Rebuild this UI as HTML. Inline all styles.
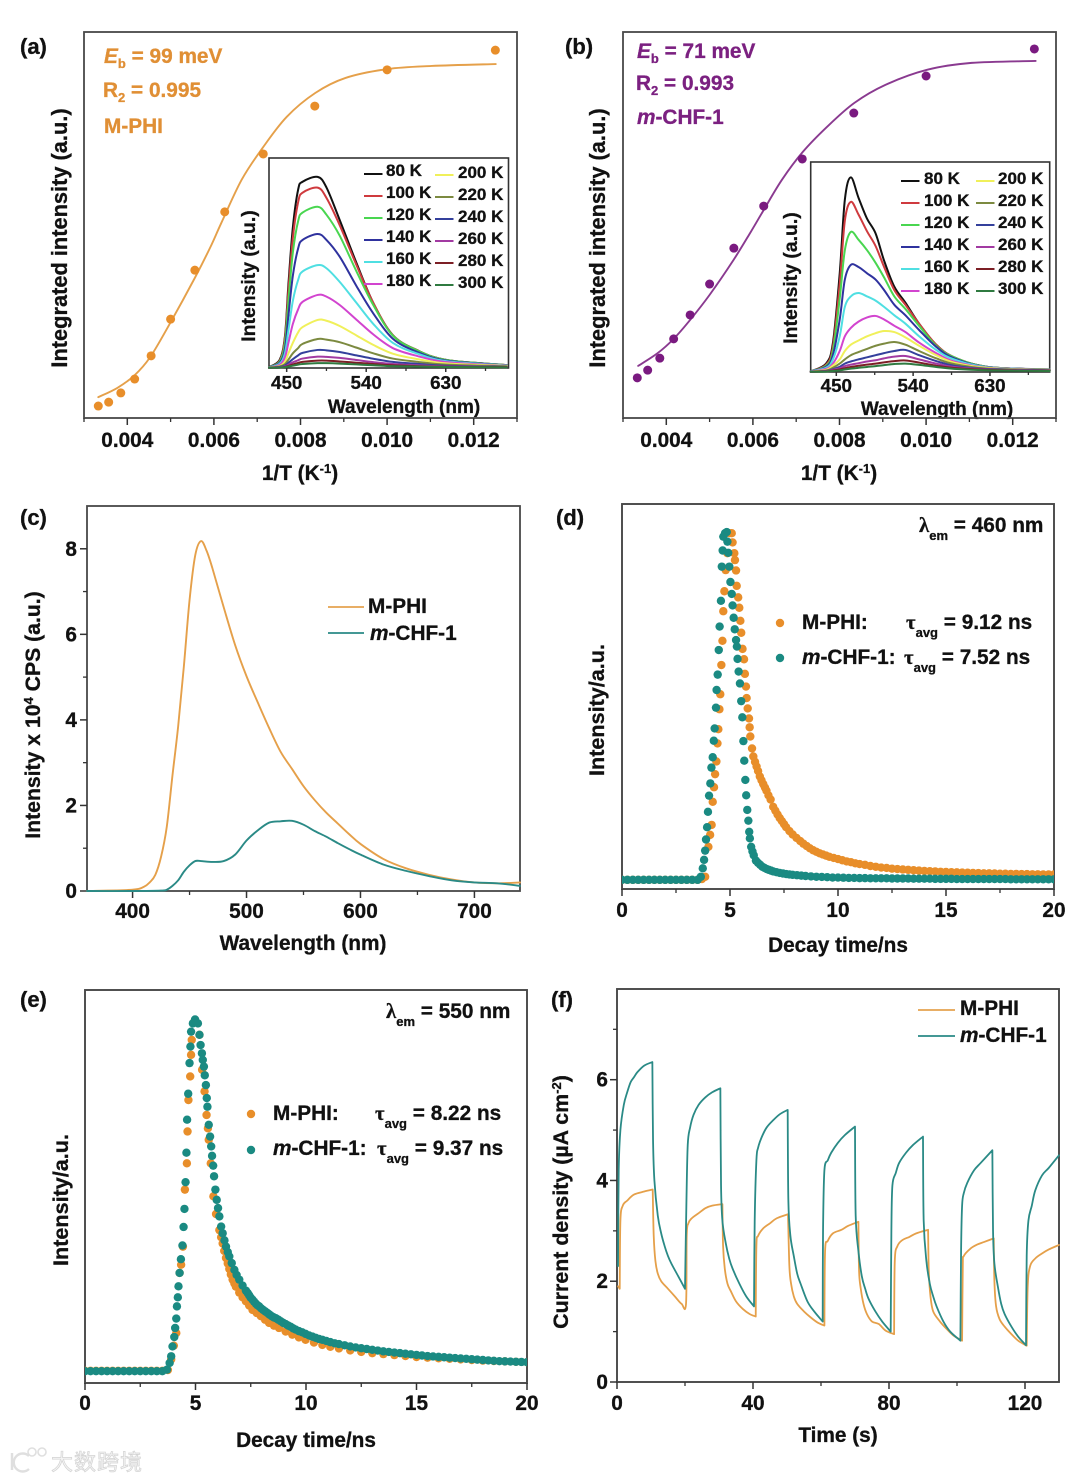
<!DOCTYPE html>
<html lang="en">
<head>
<meta charset="utf-8">
<title>Photoluminescence and photocurrent figure</title>
<style>
html,body{margin:0;padding:0;background:#fff;}
body{width:1080px;height:1481px;overflow:hidden;}
svg{display:block;filter:blur(0.35px);}
text{font-family:"Liberation Sans",sans-serif;font-weight:bold;fill:#111;stroke:#111;stroke-width:.3px;font-size:20.8px;}
.sym{font-family:"Liberation Serif",serif;}
.sub{font-size:13px;}
.ins{font-size:18.8px;}
.leg{font-size:17px;}
.pl{font-size:22px;}
.orange{fill:#e08f35;stroke:#e08f35;}
.purple{fill:#7b2080;stroke:#7b2080;}
.wm{font-family:"Liberation Sans","Noto Sans CJK SC",sans-serif;font-size:22px;fill:#f3f3f3;stroke:#cfcfcf;stroke-width:.7px;font-weight:normal;letter-spacing:1px;}
</style>
</head>
<body>
<svg id="fig" xmlns="http://www.w3.org/2000/svg" width="1080" height="1481" viewBox="0 0 1080 1481">
<defs>
<clipPath id="clip-d"><rect x="622" y="504" width="432" height="385"/></clipPath>
<clipPath id="clip-e"><rect x="85" y="990" width="442" height="393"/></clipPath>
</defs>
<rect x="0" y="0" width="1080" height="1481" fill="#fff"/>

<text class="pl" x="20" y="54">(a)</text>
<text class="pl" x="565" y="54">(b)</text>
<text class="pl" x="20" y="525">(c)</text>
<text class="pl" x="556" y="525">(d)</text>
<text class="pl" x="20" y="1007">(e)</text>
<text class="pl" x="551" y="1007">(f)</text>

<text class="orange" x="104" y="63"><tspan font-style="italic">E</tspan><tspan class="sub" dy="5">b</tspan><tspan dy="-5"> = 99 meV</tspan></text>
<text class="orange" x="103" y="97">R<tspan class="sub" dy="5">2</tspan><tspan dy="-5"> = 0.995</tspan></text>
<text class="orange" x="104" y="133">M-PHI</text>
<text text-anchor="middle" transform="translate(67,238) rotate(-90)" style="font-size:21.8px">Integrated intensity (a.u.)</text>
<text text-anchor="middle" x="300" y="480">1/T (K<tspan class="sub" dy="-7">-1</tspan><tspan dy="7">)</tspan></text>
<text text-anchor="middle" transform="translate(255,276) rotate(-90)" style="font-size:19.4px">Intensity (a.u.)</text>
<text text-anchor="middle" x="404" y="413" style="font-size:19px">Wavelength (nm)</text>

<text class="purple" x="637" y="58"><tspan font-style="italic">E</tspan><tspan class="sub" dy="5">b</tspan><tspan dy="-5"> = 71 meV</tspan></text>
<text class="purple" x="636" y="90">R<tspan class="sub" dy="5">2</tspan><tspan dy="-5"> = 0.993</tspan></text>
<text class="purple" x="637" y="124"><tspan font-style="italic">m</tspan>-CHF-1</text>
<text text-anchor="middle" transform="translate(605,238) rotate(-90)" style="font-size:21.8px">Integrated intensity (a.u.)</text>
<text text-anchor="middle" x="839" y="480">1/T (K<tspan class="sub" dy="-7">-1</tspan><tspan dy="7">)</tspan></text>
<text text-anchor="middle" transform="translate(797,278) rotate(-90)" style="font-size:19.4px">Intensity (a.u.)</text>
<text text-anchor="middle" x="937" y="415" style="font-size:19px">Wavelength (nm)</text>

<text text-anchor="middle" transform="translate(40,715) rotate(-90)" style="font-size:21.2px">Intensity x 10<tspan class="sub" dy="-7">4</tspan><tspan dy="7"> CPS (a.u.)</tspan></text>
<text text-anchor="middle" x="303" y="950">Wavelength (nm)</text>
<line x1="328" y1="607" x2="364" y2="607" stroke="#e5a24f" stroke-width="1.8"/>
<text x="368" y="613">M-PHI</text>
<line x1="328" y1="633" x2="364" y2="633" stroke="#2a8a86" stroke-width="1.8"/>
<text x="370" y="640"><tspan font-style="italic">m</tspan>-CHF-1</text>

<text text-anchor="middle" transform="translate(604,710) rotate(-90)" style="font-size:21.6px">Intensity/a.u.</text>
<text text-anchor="middle" x="838" y="952">Decay time/ns</text>
<text x="919" y="532"><tspan class="sym">λ</tspan><tspan class="sub" dy="8">em</tspan><tspan dy="-8"> = 460 nm</tspan></text>
<circle cx="780" cy="623" r="4.2" fill="#e88e2a"/>
<circle cx="780" cy="658" r="4.2" fill="#1a8a82"/>
<text x="802" y="629">M-PHI:</text>
<text x="906" y="629"><tspan class="sym">τ</tspan><tspan class="sub" dy="8">avg</tspan><tspan dy="-8"> = 9.12 ns</tspan></text>
<text x="802" y="664"><tspan font-style="italic">m</tspan>-CHF-1:</text>
<text x="904" y="664"><tspan class="sym">τ</tspan><tspan class="sub" dy="8">avg</tspan><tspan dy="-8"> = 7.52 ns</tspan></text>

<text text-anchor="middle" transform="translate(68,1200) rotate(-90)" style="font-size:21.6px">Intensity/a.u.</text>
<text text-anchor="middle" x="306" y="1447">Decay time/ns</text>
<text x="386" y="1018"><tspan class="sym">λ</tspan><tspan class="sub" dy="8">em</tspan><tspan dy="-8"> = 550 nm</tspan></text>
<circle cx="251" cy="1114" r="4.2" fill="#e88e2a"/>
<circle cx="251" cy="1150" r="4.2" fill="#1a8a82"/>
<text x="273" y="1120">M-PHI:</text>
<text x="375" y="1120"><tspan class="sym">τ</tspan><tspan class="sub" dy="8">avg</tspan><tspan dy="-8"> = 8.22 ns</tspan></text>
<text x="273" y="1155"><tspan font-style="italic">m</tspan>-CHF-1:</text>
<text x="377" y="1155"><tspan class="sym">τ</tspan><tspan class="sub" dy="8">avg</tspan><tspan dy="-8"> = 9.37 ns</tspan></text>

<text text-anchor="middle" transform="translate(568,1202) rotate(-90)" style="font-size:21.4px">Current density (µA cm<tspan class="sub" dy="-7">-2</tspan><tspan dy="7">)</tspan></text>
<text text-anchor="middle" x="838" y="1442">Time (s)</text>
<line x1="918" y1="1010" x2="955" y2="1010" stroke="#e5a24f" stroke-width="1.8"/>
<text x="960" y="1015">M-PHI</text>
<line x1="918" y1="1036" x2="955" y2="1036" stroke="#2a8a86" stroke-width="1.8"/>
<text x="960" y="1042"><tspan font-style="italic">m</tspan>-CHF-1</text>

<g opacity="0.9">
<path d="M12 1453 V1470 M29 1456 A9 9 0 1 0 29 1469" fill="none" stroke="#dcdcdc" stroke-width="2.4"/>
<circle cx="32" cy="1452" r="4" fill="none" stroke="#dcdcdc" stroke-width="1.6"/>
<circle cx="42" cy="1452" r="4" fill="none" stroke="#dcdcdc" stroke-width="1.6"/>
<text class="wm" x="51" y="1470">大数跨境</text>
</g>
</svg>

<script>
// ---------- Panel (a) ----------
const inverseTemp = [0.00333,0.00357,0.00385,0.00417,0.00455,0.005,0.00556,0.00625,0.00714,0.00833,0.01,0.0125];
const aPoints = [3.1,4.1,6.5,10.1,16.1,25.6,38.3,53.4,68.4,80.8,90.2,95.3];
const aFitX = [0.00333,0.00377,0.00417,0.00453,0.00499,0.00556,0.00592,0.00617,0.00664,0.00712,0.00768,0.00834,0.00904,0.01001,0.01103,0.01251];
const aFitY = [5.4,7.8,11.1,15.8,24.6,36.3,44.3,50.5,61.7,69.9,78,84.2,88.1,90.4,91.2,91.7];
const xTickValuesAB = [0.004,0.006,0.008,0.01,0.012];
const xTickLabelsAB = ['0.004','0.006','0.008','0.010','0.012'];
const xMinorValuesAB = [0.003,0.005,0.007,0.009,0.011,0.013];

// ---------- Panel (a) inset ----------
const aInsetWave = [430,442,448,452,457,463,468,485,495,510,529,548,570,597,631,699];
const aInset80 = [.5,3.8,15,40,67,85,88.7,91,86,70.5,50,31,15.7,8.6,3.8,1.4];
const aInset100 = [.4,3.4,14,37,62,79,83.5,85.9,81,68,49,31,15.7,8.6,3.8,1.4];
const aInset120 = [.4,3,12,32,55,70,74,76.8,73,63,46,30,15.5,8.5,3.8,1.4];
const aInset140 = [.3,2.5,9,25,44,57,61,63.8,61,53,39,26,14,7.8,3.5,1.3];
const aInset160 = [.3,2,7,18,32,42,46,49,47.5,41,31,21,12,7,3.2,1.2];
const aInset180 = [.2,1.5,5,12,21,28,31.5,34.8,34,30,23,16,9.5,5.8,2.8,1.1];
const aInset200 = [.2,1,3,7,12,17,19.5,22.9,22.5,20,15.5,11,6.8,4.3,2.2,1];
const aInset220 = [.2,.7,1.8,4,7,9.5,11.5,13.8,13.5,12.3,9.7,7,4.5,3,1.6,.8];
const aInset240 = [.1,.5,1.2,2.5,4.2,6,7.2,8.6,8.4,7.6,6,4.4,2.9,2,1.1,.6];
const aInset260 = [.1,.3,.8,1.6,2.7,3.7,4.5,5.4,5.3,4.8,3.8,2.8,1.9,1.3,.8,.5];
const aInset280 = [.1,.2,.5,1,1.7,2.4,2.9,3.5,3.5,3.1,2.5,1.9,1.3,.9,.6,.4];
const aInset300 = [.1,.2,.4,.7,1.1,1.6,1.9,2.3,2.3,2.1,1.7,1.3,.9,.7,.5,.3];
const insetTempLabels = ['80 K','100 K','120 K','140 K','160 K','180 K','200 K','220 K','240 K','260 K','280 K','300 K'];
const insetTickValues = [450,540,630];
const insetTickLabels = ['450','540','630'];
const insetMinorValues = [495,585,675];

// ---------- Panel (b) ----------
const bPoints = [10.4,12.4,15.5,20.5,26.7,34.7,44,54.9,67.1,79,88.6,95.6];
const bFitX = [0.00335,0.0038,0.00417,0.00455,0.005,0.00555,0.00595,0.00625,0.00667,0.00715,0.00771,0.00834,0.00906,0.01002,0.01105,0.01253];
const bFitY = [13.5,16.8,20.5,25.4,31.9,40.9,48.2,53.9,61.7,68.9,75.4,81.6,86.3,90.2,92,92.5];

// ---------- Panel (b) inset ----------
const bInsetWave = [420,438,446,454,460,467,476,486,496,506,518,531,547,567,588,628,700];
const bInset80 = [.3,4,13.8,47,82,92.7,83,73,66,53,40.6,33,23,13,7,2.4,1.2];
const bInset100 = [.3,3.5,12,42,72,81,75,67,60,50,39,32,23,13,7,2.4,1.2];
const bInset120 = [.3,3,10,35,58,66.7,63,58,52,45,36,30,22,12.5,7,2.4,1.2];
const bInset140 = [.3,2.5,8,25,44,51,50,47,44,39,32,27,20,12,6.5,2.3,1.2];
const bInset160 = [.3,2,6,17,31,36,37.6,36,34,31,27,23,17,10.5,6,2.2,1.1];
const bInset180 = [.2,1.5,4,10,17,21,24,26,26.7,25,22,19,14,9,5,2,1];
const bInset200 = [.2,1,3,6,10,13,15,17,18.5,19.5,19,16.5,12.5,8,4.5,1.9,1];
const bInset220 = [.2,.7,2,4,6,8,9.5,11,12.5,13.5,14.3,13,10,6.5,3.8,1.6,.9];
const bInset240 = [.1,.5,1.3,2.5,4,5,6,7,8,9,10,10.5,8,5.2,3,1.4,.8];
const bInset260 = [.1,.4,1,1.8,2.8,3.5,4.2,5,5.6,6.5,7.3,7.6,6,4,2.4,1.2,.7];
const bInset280 = [.1,.3,.7,1.2,1.8,2.4,3,3.5,4,4.6,5.2,5.5,4.5,3,1.9,1,.6];
const bInset300 = [.1,.2,.5,.8,1.2,1.6,2,2.4,2.8,3.3,3.8,4,3.4,2.4,1.5,.8,.5];

// ---------- Panel (c) ----------
const cPhiWave = [360,400,410,415,420,425,430,435,440,445,450,455,460,465,470,480,490,500,510,520,530,540,550,560,570,580,590,600,620,640,660,680,700,720,740];
const cPhiValues = [0,.03,.1,.2,.38,.8,1.5,2.7,3.85,5.25,6.8,7.85,8.18,7.95,7.55,6.63,5.75,5.02,4.4,3.8,3.25,2.85,2.45,2.12,1.83,1.58,1.33,1.1,.75,.53,.38,.27,.2,.18,.2];
const cChfWave = [360,400,425,430,435,440,445,450,455,460,470,480,490,500,510,520,530,540,550,560,570,580,590,600,620,640,660,680,700,720,740];
const cChfValues = [0,0,.01,.03,.12,.25,.45,.6,.7,.7,.68,.7,.85,1.18,1.42,1.6,1.63,1.64,1.55,1.4,1.27,1.12,.98,.85,.62,.47,.35,.25,.2,.18,.12];
const cXTicks = [400,500,600,700];
const cXMinor = [450,550,650];
const cYTicks = [0,2,4,6,8];
const cYMinor = [1,3,5,7];

// ---------- Panel (d) ----------
const dPhiTime = [0,.25,.5,.75,1,1.25,1.5,1.75,2,2.25,
2.5,2.75,3,3.25,3.5,3.7,3.85,4,4.08,4.15,
4.2,4.26,4.31,4.37,4.42,4.46,4.51,4.55,4.6,4.65,
4.69,4.74,4.8,4.88,4.97,5.08,5.12,5.2,5.23,5.28,
5.31,5.38,5.43,5.48,5.52,5.58,5.65,5.69,5.74,5.77,
5.82,5.88,5.91,5.94,6.02,6.08,6.16,6.23,6.3,6.38,
6.46,6.54,6.62,6.69,6.78,6.88,7,7.1,7.2,7.3,
7.4,7.5,7.6,7.75,7.9,8.08,8.25,8.4,8.55,8.7,
8.85,9,9.15,9.3,9.45,9.6,9.8,10,10.2,10.4,
10.6,10.8,11,11.25,11.5,11.75,12,12.25,12.5,12.75,
13,13.25,13.5,13.75,14,14.25,14.5,14.75,15,15.25,
15.5,15.75,16,16.25,16.5,16.75,17,17.25,17.5,17.75,
18,18.25,18.5,18.75,19,19.25,19.5,19.75,20];
const dPhiValues = [2.2,2.2,2.2,2.2,2.2,2.2,2.2,2.2,2.2,2.2,
2.2,2.2,2.2,2.2,2.2,2.4,3,10.8,13.9,16.5,
22.5,26.3,29.7,33,37.7,41.4,46.6,50.5,58.1,64.4,
72.1,77.3,82.8,87.2,92.4,92.4,90,87.2,85.4,82.7,
78.7,75.7,73,69.6,66.5,62.3,59.6,55.8,52.5,49.5,
46.8,44.2,41.9,39.5,36.4,34.3,32.9,31.7,30.5,29.1,
28.1,27.1,26.2,25.4,24.2,23.1,21.2,20.2,19.2,18.3,
17.5,16.7,15.9,14.9,14,13.1,12.3,11.6,11,10.4,
9.9,9.5,9.1,8.8,8.5,8.2,7.9,7.6,7.3,7,
6.8,6.5,6.3,6.1,5.8,5.6,5.4,5.3,5.1,5,
4.9,4.8,4.7,4.6,4.5,4.45,4.4,4.3,4.25,4.2,
4.15,4.1,4.05,4,3.95,3.9,3.9,3.85,3.8,3.8,
3.75,3.75,3.7,3.7,3.65,3.65,3.6,3.6,3.6];
const dChfTime = [0,.25,.5,.75,1,1.25,1.5,1.75,2,2.25,
2.5,2.75,3,3.25,3.5,3.65,3.74,3.8,3.85,3.89,
3.94,3.98,4.03,4.09,4.14,4.2,4.25,4.29,4.35,4.38,
4.43,4.48,4.52,4.58,4.62,4.66,4.69,4.77,4.85,4.88,
4.92,4.97,5.02,5.08,5.12,5.17,5.22,5.28,5.32,5.35,
5.4,5.46,5.52,5.57,5.62,5.66,5.71,5.75,5.8,5.85,
5.89,5.92,5.98,6.04,6.1,6.2,6.3,6.4,6.5,6.6,
6.7,6.8,6.9,7,7.15,7.3,7.45,7.6,7.75,7.9,
8.1,8.3,8.5,8.75,9,9.25,9.5,9.75,10,10.25,
10.5,10.75,11,11.25,11.5,11.75,12,12.25,12.5,12.75,
13,13.25,13.5,13.75,14,14.25,14.5,14.75,15,15.25,
15.5,15.75,16,16.25,16.5,16.75,17,17.25,17.5,17.75,
18,18.25,18.5,18.75,19,19.25,19.5,19.75,20];
const dChfValues = [2.2,2.2,2.2,2.2,2.2,2.2,2.2,2.2,2.2,2.2,
2.2,2.2,2.2,2.2,2.2,3,5.2,7.4,9.8,12.7,
15.9,19.9,24.1,27.3,31.4,34.1,38.4,41.6,47,51.6,
55.6,62,68.1,74.8,83.7,87.9,91.5,92.4,92.7,90.2,
87.3,83.7,79.7,76.6,73.6,70.4,67.4,64.6,62.9,59.7,
56.4,53.3,48.7,44.5,38.3,33.2,28.2,24.2,20.4,17.6,
14.7,13,10.8,9.6,8.6,7.2,6.6,6.1,5.6,5.3,
5,4.8,4.6,4.4,4.2,4,3.85,3.7,3.6,3.5,
3.4,3.3,3.2,3.1,3,2.95,2.9,2.8,2.8,2.75,
2.7,2.7,2.65,2.65,2.6,2.6,2.6,2.6,2.55,2.55,
2.55,2.55,2.5,2.5,2.5,2.5,2.45,2.45,2.45,2.45,
2.4,2.4,2.4,2.4,2.4,2.4,2.4,2.4,2.4,2.4,
2.35,2.35,2.35,2.35,2.35,2.35,2.35,2.35,2.35];
const decayTicks = [0,5,10,15,20];
const decayMinor = [2.5,7.5,12.5,17.5];

// ---------- Panel (e) ----------
const ePhiTime = [0,.25,.5,.75,1,1.25,1.5,1.75,2,2.25,
2.5,2.75,3,3.25,3.5,3.75,3.9,4.02,4.13,4.28,
4.35,4.43,4.52,4.61,4.64,4.68,4.76,4.8,4.83,4.95,
5.18,5.3,5.41,5.5,5.56,5.6,5.69,5.81,5.93,6.08,
6.16,6.23,6.3,6.38,6.46,6.53,6.6,6.68,6.76,6.83,
6.98,7.13,7.28,7.43,7.58,7.77,7.96,8.15,8.33,8.55,
8.78,9.08,9.38,9.68,9.98,10.36,10.74,11.1,11.49,12,
12.5,13,13.5,14,14.5,15,15.5,16,16.5,17,
17.5,18,18.5,19,19.5,20];
const ePhiValues = [3.1,3.1,3.1,3.1,3.1,3.1,3.1,3.1,3.1,3.1,
3.1,3.1,3.1,3.1,3.1,3.3,6,9.5,12.7,28,
30.1,34.7,49.2,55.9,64,72,78,83.5,87.3,92,
88.6,79.7,74.2,68.2,64.8,61.9,55.9,47.5,43,38.9,
37.1,35.5,33.6,31.8,30.4,29,27.6,26.3,25.3,24.5,
23,21.8,20.8,19.7,18.6,17.8,17,16.1,15.3,14.6,
14,13.1,12.3,11.6,11,10.3,9.7,9.2,8.8,8.3,
7.9,7.6,7.35,7.1,6.85,6.6,6.45,6.3,6.15,6,
5.85,5.7,5.6,5.5,5.4,5.3];
const eChfTime = [0,.25,.5,.75,1,1.25,1.5,1.75,2,2.25,
2.5,2.75,3,3.25,3.5,3.71,3.83,3.9,3.96,4.04,
4.08,4.13,4.16,4.2,4.23,4.28,4.34,4.41,4.46,4.5,
4.55,4.59,4.62,4.67,4.73,4.77,4.8,4.88,4.98,5.11,
5.18,5.23,5.29,5.33,5.38,5.42,5.47,5.51,5.54,5.6,
5.66,5.71,5.75,5.8,5.84,5.9,5.96,6.02,6.08,6.16,
6.23,6.31,6.38,6.46,6.53,6.64,6.76,6.86,6.98,7.13,
7.28,7.36,7.43,7.5,7.58,7.65,7.73,7.8,7.88,7.97,
8.06,8.16,8.26,8.35,8.45,8.54,8.63,8.75,8.86,8.97,
9.08,9.2,9.31,9.42,9.53,9.68,9.83,9.98,10.14,10.29,
10.44,10.59,10.74,10.92,11.1,11.3,11.49,11.75,
12,12.25,12.5,12.75,13,13.25,13.5,13.75,14,14.25,
14.5,14.75,15,15.25,15.5,15.75,16,16.25,16.5,16.75,
17,17.25,17.5,17.75,18,18.25,18.5,18.75,19,19.25,
19.5,19.75,20];
const eChfValues = [3,3,3,3,3,3,3,3,3,3,
3,3,3,3,3,3.4,5.1,6.8,9.3,11.7,
14,16.4,19.5,21.8,24.6,28,31.5,35,39.7,44.3,
51.1,58.6,67,73.6,81.4,85.6,89.4,91.5,92.5,91.5,
88.6,86,83.9,82.2,80.5,78.3,75.8,72.5,70.3,65.7,
62.7,60.2,57.8,55.3,52.6,49.2,46.6,44.5,42.4,39.8,
38.1,36.3,34.7,33.3,32.2,30.5,28.8,27.5,26.3,24.8,
23.5,22.9,22.3,21.7,21.2,20.7,20.2,19.8,19.5,19,
18.6,18.2,17.8,17.4,17,16.7,16.5,16.1,15.7,15.3,
15,14.6,14.3,13.9,13.6,13.2,12.9,12.5,12.1,11.8,
11.5,11.2,11,10.7,10.4,10.1,9.9,9.6,
9.3,9.05,8.85,8.65,8.45,8.25,8.05,7.9,7.75,7.6,
7.45,7.3,7.15,7,6.85,6.75,6.65,6.55,6.45,6.35,
6.25,6.15,6.05,5.95,5.85,5.75,5.65,5.55,5.5,5.45,
5.4,5.35,5.3];

// ---------- Panel (f) ----------
const fChfTime = [.3,.5,1,2,3,4,5,6,8,10.4,10.6,11,12,13,14,15,16,18,20,
20.4,20.8,21.5,22.5,24,26,28,30.4,30.6,31,32,33,34,36,38,40.3,
40.5,41,41.5,42.5,44,46,48,50.2,50.4,51,52,53,54,56,58,60.5,
60.6,61,62,63,65,67,70,70.2,71,72,73,74,76,78,80.5,
80.7,81,82,83,85,87,90,90.2,91,92,93,94,96,98,101,
101.2,101.5,102,103,105,107,110.4,110.6,111,112,113,114,116,118,120.3,
120.5,121,122,123,125,127,130];
const fChfValues = [2.3,4.2,5,5.5,5.75,5.95,6.05,6.15,6.28,6.35,4.8,4,3.3,2.95,2.7,2.5,2.35,2.1,1.85,
3.5,4.7,5.05,5.3,5.5,5.65,5.75,5.83,3.9,3.2,2.75,2.45,2.25,1.95,1.7,1.5,
3.2,4.4,4.65,4.85,5.05,5.2,5.32,5.4,3.6,2.9,2.5,2.15,1.95,1.6,1.4,1.2,
3,4.2,4.4,4.55,4.75,4.9,5.07,3.3,2.6,2.1,1.85,1.65,1.4,1.2,1,
3,3.9,4.15,4.35,4.55,4.7,4.87,3.2,2.4,1.95,1.7,1.5,1.2,1,.82,
2.6,3.5,3.75,3.95,4.2,4.35,4.6,3,2.35,1.9,1.55,1.35,1.1,.9,.73,
2.5,3.2,3.5,3.8,4.1,4.25,4.5];
const fPhiTime = [.3,.8,1,1.7,3,5,8,10.5,10.8,11.3,12,13,15,17,19,20.3,
20.5,21,22,24,26,28,31,31.2,31.7,32.5,33.5,35,37,39,40.8,
41,41.5,43,45,47,50.3,50.7,51.2,52,53,55,57,59,61,
61.2,62,63.5,66,68,71,71.2,71.7,72.5,73.5,75,77,79,81.5,
81.7,82.5,84,86,88,91.5,91.7,92.2,93,95,97,99,101.5,
101.7,102,104,106,108,110.8,111,111.5,112.5,114,116,118,120.5,
120.8,121.5,123,125,127,130];
const fPhiValues = [1.9,1.85,3.2,3.5,3.6,3.72,3.78,3.82,2.9,2.4,2.15,2,1.85,1.7,1.55,1.55,
2.9,3.15,3.25,3.35,3.45,3.5,3.53,2.7,2.25,1.95,1.8,1.6,1.45,1.35,1.3,
2.7,2.9,3.05,3.15,3.25,3.33,2.3,1.95,1.7,1.55,1.4,1.28,1.18,1.12,
2.6,2.8,2.95,3.02,3.1,3.18,2.2,1.85,1.55,1.35,1.2,1.15,1.02,.95,
2.4,2.7,2.82,2.88,2.95,3.02,2.2,1.7,1.4,1.2,1.05,.92,.82,
2.3,2.5,2.65,2.73,2.78,2.85,2,1.5,1.25,1.1,.95,.82,.72,
1.9,2.3,2.45,2.55,2.63,2.72];
const fXTicks = [0,40,80,120];
const fXMinor = [20,60,100];
const fYTicks = [0,2,4,6];
const fYMinor = [1,3,5,7];

// ---------- drawing helpers ----------
const NS = 'http://www.w3.org/2000/svg';
const svg = document.getElementById('fig');
function linear(d0, d1, p0, p1) { return function (v) { return p0 + (v - d0) * (p1 - p0) / (d1 - d0); }; }
function tag(type, attrs, name) {
  const el = document.createElementNS(NS, type);
  for (const k in attrs) el.setAttribute(k, attrs[k]);
  
  
  svg.appendChild(el);
  return el;
}
function smoothPath(px, py, move) {
  let d = (move === false ? 'L' : 'M') + px[0].toFixed(2) + ' ' + py[0].toFixed(2);
  for (let i = 0; i < px.length - 1; i++) {
    const a = Math.max(i - 1, 0), b = Math.min(i + 2, px.length - 1);
    const c1x = px[i] + (px[i + 1] - px[a]) / 6, c1y = py[i] + (py[i + 1] - py[a]) / 6;
    const c2x = px[i + 1] - (px[b] - px[i]) / 6, c2y = py[i + 1] - (py[b] - py[i]) / 6;
    d += 'C' + c1x.toFixed(2) + ' ' + c1y.toFixed(2) + ' ' + c2x.toFixed(2) + ' ' + c2y.toFixed(2) + ' ' + px[i + 1].toFixed(2) + ' ' + py[i + 1].toFixed(2);
  }
  return d;
}
// smooth each monotonic run separately so the sharp on/off switching stays sharp
function piecewisePath(px, py) {
  let d = '', start = 0;
  for (let i = 1; i < px.length; i++) {
    const last = i === px.length - 1;
    const turn = !last && (py[i] - py[i - 1]) * (py[i + 1] - py[i]) < 0;
    if (turn || last) {
      d += smoothPath(px.slice(start, i + 1), py.slice(start, i + 1), start === 0 ? true : false);
      start = i;
    }
  }
  return d;
}
function curve(xs, ys, sx, sy, color, width, name, piecewise) {
  const px = xs.map(sx), py = ys.map(sy);
  tag('path', { d: piecewise ? piecewisePath(px, py) : smoothPath(px, py), fill: 'none', stroke: color, 'stroke-width': width, 'stroke-linejoin': 'round', 'stroke-linecap': 'round' }, name);
}
function dots(xs, ys, sx, sy, color, r, name, clip) {
  xs.forEach(function (x, i) {
    const c = tag('circle', { cx: sx(x).toFixed(2), cy: sy(ys[i]).toFixed(2), r: r, fill: color }, name + '-point');
    if (clip) c.setAttribute('clip-path', 'url(#' + clip + ')');
  });
}
function frame(x0, y0, x1, y1, name, w) {
  tag('rect', { x: x0, y: y0, width: x1 - x0, height: y1 - y0, fill: 'none', stroke: '#484848', 'stroke-width': w }, name);
}
function xAxis(values, labels, minor, sx, yAxisPx, labelY, prefix, maj, min, cls) {
  values.forEach(function (v, i) {
    const x = sx(v);
    tag('line', { x1: x, x2: x, y1: yAxisPx, y2: yAxisPx + maj, stroke: '#333', 'stroke-width': 1.5 }, prefix + '-x-tick');
    const t = tag('text', { x: x, y: labelY, 'text-anchor': 'middle' }, prefix + '-x-tick-label');
    if (cls) t.setAttribute('class', cls);
    t.textContent = labels[i];
  });
  minor.forEach(function (v) {
    const x = sx(v);
    tag('line', { x1: x, x2: x, y1: yAxisPx, y2: yAxisPx + min, stroke: '#333', 'stroke-width': 1.3 }, prefix + '-x-minor-tick');
  });
}
function yAxis(values, minor, sy, xAxisPx, labelX, prefix) {
  values.forEach(function (v) {
    const y = sy(v);
    tag('line', { x1: xAxisPx - 7, x2: xAxisPx, y1: y, y2: y, stroke: '#333', 'stroke-width': 1.5 }, prefix + '-y-tick');
    const t = tag('text', { x: labelX, y: y + 7, 'text-anchor': 'end' }, prefix + '-y-tick-label');
    t.textContent = String(v);
  });
  minor.forEach(function (v) {
    const y = sy(v);
    tag('line', { x1: xAxisPx - 4, x2: xAxisPx, y1: y, y2: y, stroke: '#333', 'stroke-width': 1.3 }, prefix + '-y-minor-tick');
  });
}
const insetColors = ['#111','#cf3a3e','#49d650','#2f329e','#4fdfe2','#d244cf','#f0f05a','#7c8a40','#34409c','#a23aa2','#7c1f25','#2f7a40'];
function inset(wave, series, sx, sy, box, labelY, leftLeg, rightLeg, prefix) {
  tag('rect', { x: box[0], y: box[1], width: box[2] - box[0], height: box[3] - box[1], fill: '#fff', stroke: '#333', 'stroke-width': 1.6 }, prefix + '-inset-frame');
  series.forEach(function (vals, i) {
    curve(wave, vals, sx, sy, insetColors[i], 2, prefix + '-inset-curve-' + insetTempLabels[i].replace(' ', '').toLowerCase());
  });
  xAxis(insetTickValues, insetTickLabels, insetMinorValues, sx, box[3], labelY, prefix + '-inset', 4, 3, 'ins');
  insetTempLabels.forEach(function (lab, i) {
    const col = i < 6 ? leftLeg : rightLeg;
    const row = i < 6 ? i : i - 6;
    const ly = col.lineY + row * 22;
    tag('line', { x1: col.lineX, x2: col.lineX + 18.5, y1: ly, y2: ly, stroke: insetColors[i], 'stroke-width': 2 }, prefix + '-inset-legend-line');
    const t = tag('text', { x: col.textX, y: col.textY + row * 22 }, prefix + '-inset-legend-label');
    t.setAttribute('class', 'leg');
    t.textContent = lab;
  });
}

// ---------- panels ----------
const orangeCurve = '#e5a04a', orangeDot = '#e88e2a', purpleCurve = '#8a3a90', purpleDot = '#7a1a80', tealCurve = '#2a8a86', tealDot = '#1a8a82';

// panel a
const ax = linear(0.003, 0.013, 84, 517), ay = linear(0, 100, 418, 32);
frame(84, 32, 517, 418, 'a-plot-frame', 1.8);
xAxis(xTickValuesAB, xTickLabelsAB, xMinorValuesAB, ax, 418, 447, 'a', 7, 4);
curve(aFitX, aFitY, ax, ay, orangeCurve, 1.9, 'a-fit-curve');
dots(inverseTemp, aPoints, ax, ay, orangeDot, 4.5, 'a-data');
const aix = linear(430, 701, 269, 508.5), aiy = linear(0, 100, 368, 158);
inset(aInsetWave, [aInset80,aInset100,aInset120,aInset140,aInset160,aInset180,aInset200,aInset220,aInset240,aInset260,aInset280,aInset300], aix, aiy, [269,158,508.5,368], 389, {lineX:364,lineY:174,textX:386,textY:176}, {lineX:435,lineY:175,textX:458,textY:178}, 'a');

// panel b
const bx = linear(0.003, 0.013, 623, 1056), by = linear(0, 100, 418, 32);
frame(623, 32, 1056, 418, 'b-plot-frame', 1.8);
xAxis(xTickValuesAB, xTickLabelsAB, xMinorValuesAB, bx, 418, 447, 'b', 7, 4);
curve(bFitX, bFitY, bx, by, purpleCurve, 1.9, 'b-fit-curve');
dots(inverseTemp, bPoints, bx, by, purpleDot, 4.5, 'b-data');
const bix = linear(420, 700, 810.7, 1049.7), biy = linear(0, 100, 372, 162);
inset(bInsetWave, [bInset80,bInset100,bInset120,bInset140,bInset160,bInset180,bInset200,bInset220,bInset240,bInset260,bInset280,bInset300], bix, biy, [810.7,162,1049.7,372], 392, {lineX:901,lineY:181,textX:924,textY:184}, {lineX:976,lineY:181,textX:998,textY:184}, 'b');

// panel c
const cx = linear(360, 740, 87, 520), cy = linear(0, 9, 891, 506);
frame(87, 506, 520, 891, 'c-plot-frame', 1.8);
xAxis(cXTicks, cXTicks.map(String), cXMinor, cx, 891, 918, 'c', 7, 4);
yAxis(cYTicks, cYMinor, cy, 87, 77, 'c');
curve(cPhiWave, cPhiValues, cx, cy, orangeCurve, 1.9, 'c-m-phi-curve');
curve(cChfWave, cChfValues, cx, cy, tealCurve, 1.9, 'c-m-chf-1-curve');

// panel d
const dx = linear(0, 20, 622, 1054), dy = linear(0, 100, 888.3, 504);
frame(622, 504, 1054, 889, 'd-plot-frame', 1.9);
xAxis(decayTicks, decayTicks.map(String), decayMinor, dx, 889, 917, 'd', 7, 4);
dots(dPhiTime, dPhiValues, dx, dy, orangeDot, 4.2, 'd-m-phi', 'clip-d');
dots(dChfTime, dChfValues, dx, dy, tealDot, 4.2, 'd-m-chf-1', 'clip-d');

// panel e
const ex = linear(0, 20, 85, 527), ey = linear(0, 100, 1383, 990);
frame(85, 990, 527, 1383, 'e-plot-frame', 1.9);
xAxis(decayTicks, decayTicks.map(String), decayMinor, ex, 1383, 1410, 'e', 7, 4);
dots(ePhiTime, ePhiValues, ex, ey, orangeDot, 4.2, 'e-m-phi', 'clip-e');
dots(eChfTime, eChfValues, ex, ey, tealDot, 4.2, 'e-m-chf-1', 'clip-e');

// panel f
const fx = linear(0, 130, 617, 1059), fy = linear(0, 7.8, 1382, 989);
frame(617, 989, 1059, 1382, 'f-plot-frame', 1.9);
xAxis(fXTicks, fXTicks.map(String), fXMinor, fx, 1382, 1410, 'f', 7, 4);
yAxis(fYTicks, fYMinor, fy, 617, 608, 'f');
curve(fPhiTime, fPhiValues, fx, fy, orangeCurve, 1.8, 'f-m-phi-curve', true);
curve(fChfTime, fChfValues, fx, fy, tealCurve, 1.8, 'f-m-chf-1-curve', true);
</script>
</body>
</html>
